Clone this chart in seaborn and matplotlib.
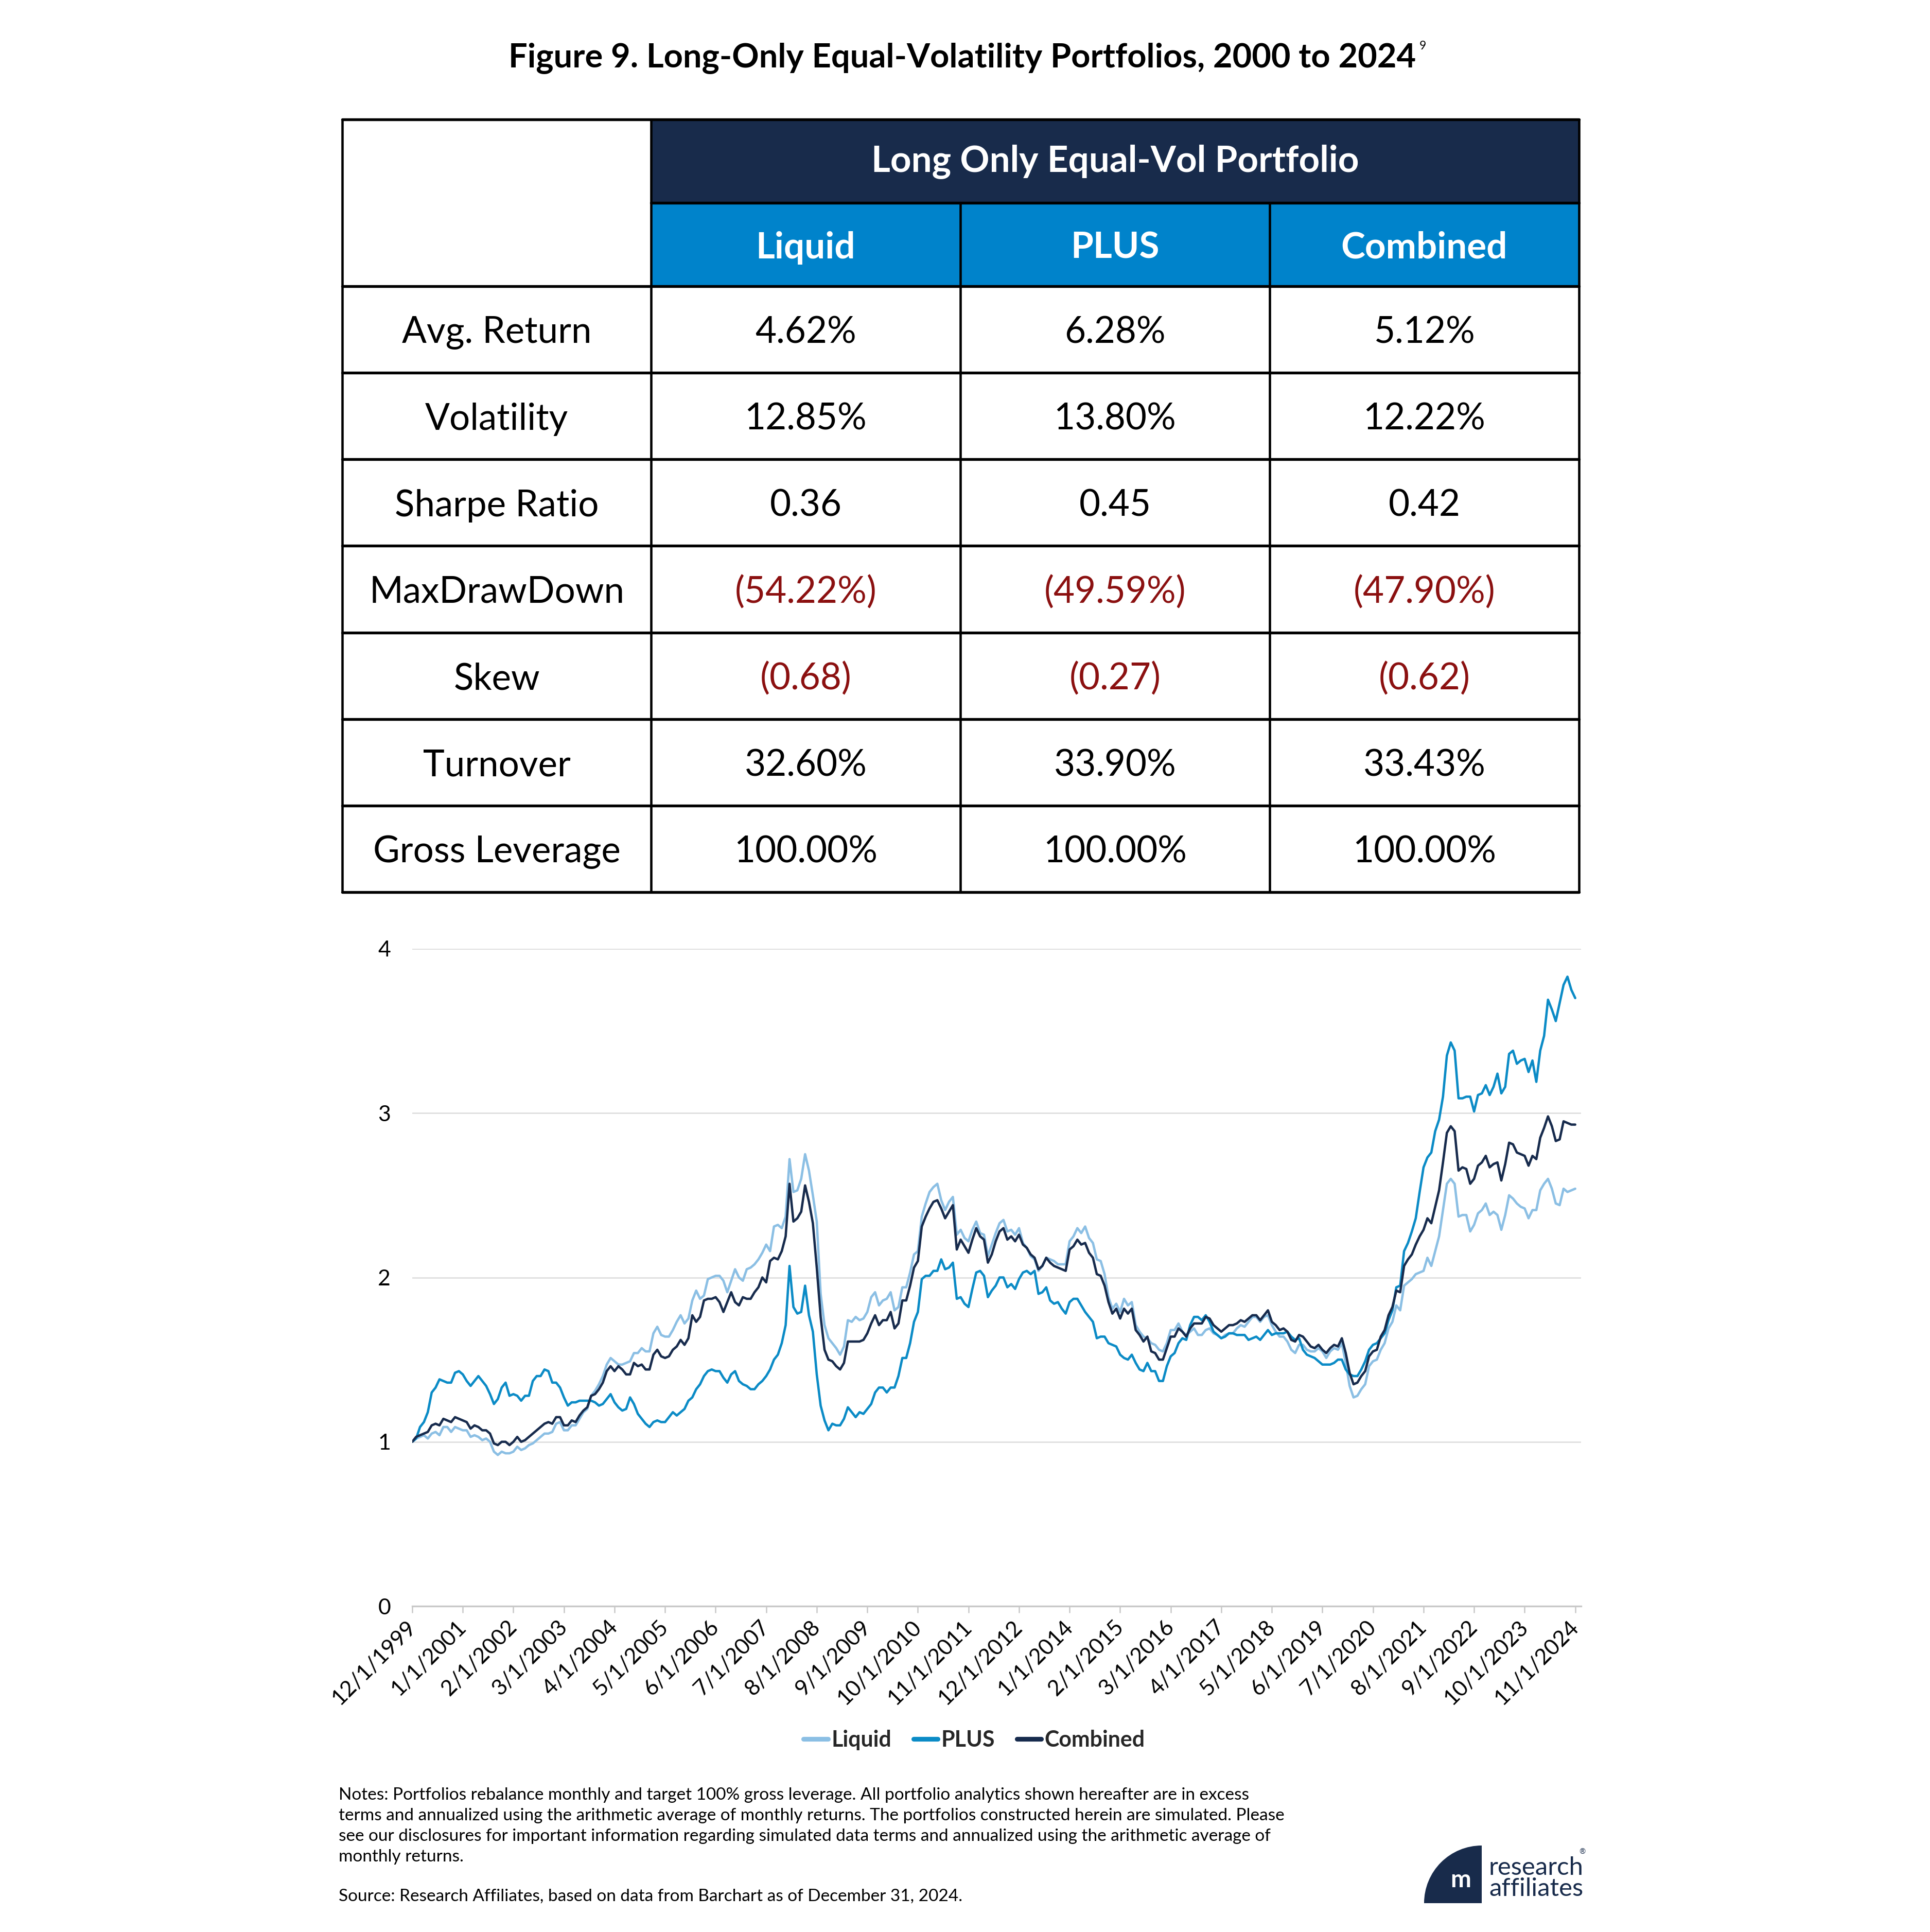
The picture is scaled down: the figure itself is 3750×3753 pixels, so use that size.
import matplotlib
matplotlib.use("Agg")
import matplotlib.pyplot as plt
from matplotlib.lines import Line2D
from matplotlib.patches import Rectangle, Wedge
import pandas as pd
import seaborn as sns

W, H, DPI = 3750, 3753, 300

# monthly growth of $1, 12/1999 .. 11/2024
liquid = [
    1.00, 1.02, 1.03, 1.04, 1.02, 1.05, 1.06, 1.04, 1.09, 1.09,
    1.06, 1.09, 1.08, 1.07, 1.07, 1.03, 1.04, 1.03, 1.01, 1.02,
    1.00, 0.94, 0.92, 0.94, 0.93, 0.93, 0.94, 0.97, 0.95, 0.96,
    0.98, 0.99, 1.01, 1.03, 1.05, 1.05, 1.06, 1.11, 1.12, 1.07,
    1.07, 1.10, 1.10, 1.14, 1.18, 1.20, 1.28, 1.31, 1.35, 1.40,
    1.47, 1.51, 1.49, 1.47, 1.47, 1.48, 1.49, 1.54, 1.54, 1.57,
    1.55, 1.55, 1.66, 1.70, 1.65, 1.64, 1.64, 1.68, 1.73, 1.77,
    1.72, 1.75, 1.86, 1.92, 1.87, 1.89, 1.99, 2.00, 2.01, 2.01,
    1.98, 1.91, 1.98, 2.05, 2.00, 1.98, 2.05, 2.06, 2.08, 2.11,
    2.15, 2.20, 2.16, 2.31, 2.32, 2.30, 2.37, 2.72, 2.52, 2.53,
    2.60, 2.75, 2.65, 2.50, 2.34, 1.90, 1.71, 1.63, 1.60, 1.57,
    1.53, 1.58, 1.74, 1.73, 1.76, 1.74, 1.75, 1.79, 1.88, 1.91,
    1.83, 1.86, 1.87, 1.91, 1.80, 1.82, 1.94, 1.94, 2.03, 2.14,
    2.16, 2.37, 2.45, 2.52, 2.55, 2.57, 2.47, 2.41, 2.46, 2.49,
    2.26, 2.29, 2.24, 2.22, 2.29, 2.34, 2.27, 2.26, 2.13, 2.20,
    2.27, 2.33, 2.35, 2.28, 2.29, 2.26, 2.30, 2.21, 2.18, 2.13,
    2.11, 2.04, 2.07, 2.12, 2.11, 2.10, 2.08, 2.08, 2.08, 2.22,
    2.25, 2.30, 2.27, 2.31, 2.24, 2.21, 2.11, 2.10, 2.02, 1.88,
    1.81, 1.84, 1.79, 1.87, 1.83, 1.85, 1.71, 1.67, 1.64, 1.63,
    1.60, 1.59, 1.56, 1.55, 1.60, 1.68, 1.68, 1.72, 1.67, 1.65,
    1.67, 1.69, 1.65, 1.65, 1.68, 1.69, 1.66, 1.65, 1.63, 1.65,
    1.66, 1.66, 1.69, 1.71, 1.70, 1.73, 1.76, 1.76, 1.73, 1.76,
    1.77, 1.71, 1.67, 1.64, 1.64, 1.61, 1.56, 1.54, 1.59, 1.59,
    1.56, 1.55, 1.55, 1.57, 1.55, 1.51, 1.55, 1.57, 1.56, 1.60,
    1.48, 1.34, 1.27, 1.28, 1.32, 1.35, 1.46, 1.49, 1.50, 1.56,
    1.60, 1.69, 1.73, 1.83, 1.80, 1.95, 1.97, 1.99, 2.02, 2.03,
    2.04, 2.12, 2.07, 2.16, 2.25, 2.41, 2.57, 2.60, 2.57, 2.37,
    2.38, 2.38, 2.28, 2.32, 2.39, 2.41, 2.45, 2.38, 2.40, 2.38,
    2.29, 2.38, 2.50, 2.48, 2.45, 2.43, 2.42, 2.36, 2.41, 2.41,
    2.53, 2.57, 2.60, 2.54, 2.45, 2.44, 2.54, 2.52, 2.53, 2.54,
]
plus = [
    1.00, 1.02, 1.09, 1.12, 1.18, 1.30, 1.33, 1.38, 1.37, 1.36,
    1.36, 1.42, 1.43, 1.41, 1.37, 1.34, 1.37, 1.40, 1.37, 1.34,
    1.29, 1.23, 1.26, 1.33, 1.36, 1.28, 1.29, 1.28, 1.25, 1.28,
    1.28, 1.37, 1.40, 1.40, 1.44, 1.43, 1.36, 1.36, 1.33, 1.27,
    1.22, 1.24, 1.24, 1.25, 1.25, 1.25, 1.25, 1.24, 1.22, 1.23,
    1.26, 1.29, 1.24, 1.21, 1.19, 1.20, 1.27, 1.23, 1.17, 1.14,
    1.11, 1.09, 1.12, 1.13, 1.12, 1.12, 1.15, 1.18, 1.16, 1.18,
    1.20, 1.25, 1.27, 1.32, 1.35, 1.40, 1.43, 1.44, 1.43, 1.43,
    1.39, 1.36, 1.41, 1.43, 1.37, 1.35, 1.34, 1.32, 1.32, 1.35,
    1.37, 1.40, 1.44, 1.50, 1.53, 1.60, 1.71, 2.07, 1.82, 1.78,
    1.79, 1.95, 1.77, 1.67, 1.41, 1.22, 1.13, 1.07, 1.11, 1.10,
    1.10, 1.14, 1.21, 1.18, 1.15, 1.18, 1.17, 1.20, 1.23, 1.30,
    1.33, 1.33, 1.30, 1.33, 1.33, 1.40, 1.51, 1.51, 1.60, 1.73,
    1.79, 1.99, 2.01, 2.01, 2.04, 2.04, 2.11, 2.05, 2.06, 2.09,
    1.87, 1.88, 1.84, 1.82, 1.93, 2.03, 2.04, 2.01, 1.88, 1.92,
    1.95, 2.00, 2.00, 1.94, 1.96, 1.93, 1.99, 2.03, 2.04, 2.02,
    2.04, 1.90, 1.91, 1.94, 1.86, 1.84, 1.85, 1.81, 1.78, 1.85,
    1.87, 1.87, 1.83, 1.79, 1.76, 1.73, 1.63, 1.64, 1.64, 1.60,
    1.59, 1.58, 1.53, 1.51, 1.50, 1.53, 1.48, 1.44, 1.43, 1.48,
    1.43, 1.43, 1.37, 1.37, 1.46, 1.52, 1.54, 1.60, 1.63, 1.62,
    1.71, 1.76, 1.76, 1.74, 1.77, 1.73, 1.67, 1.65, 1.63, 1.64,
    1.66, 1.66, 1.65, 1.65, 1.65, 1.62, 1.63, 1.64, 1.62, 1.65,
    1.68, 1.65, 1.66, 1.66, 1.66, 1.67, 1.64, 1.62, 1.63, 1.56,
    1.53, 1.52, 1.51, 1.49, 1.47, 1.47, 1.47, 1.48, 1.50, 1.50,
    1.44, 1.41, 1.40, 1.40, 1.44, 1.49, 1.56, 1.59, 1.60, 1.63,
    1.66, 1.74, 1.80, 1.94, 1.95, 2.16, 2.21, 2.28, 2.36, 2.52,
    2.67, 2.73, 2.76, 2.89, 2.96, 3.10, 3.35, 3.43, 3.38, 3.09,
    3.09, 3.10, 3.10, 3.01, 3.11, 3.12, 3.17, 3.11, 3.16, 3.24,
    3.12, 3.16, 3.36, 3.38, 3.30, 3.32, 3.33, 3.25, 3.32, 3.19,
    3.38, 3.47, 3.69, 3.63, 3.56, 3.67, 3.78, 3.83, 3.75, 3.70,
]
combined = [
    1.00, 1.03, 1.04, 1.05, 1.06, 1.10, 1.11, 1.10, 1.14, 1.13,
    1.12, 1.15, 1.14, 1.13, 1.12, 1.08, 1.10, 1.09, 1.07, 1.07,
    1.05, 0.99, 0.98, 1.00, 1.00, 0.98, 1.00, 1.03, 1.00, 1.01,
    1.03, 1.05, 1.07, 1.09, 1.11, 1.12, 1.11, 1.15, 1.15, 1.10,
    1.10, 1.13, 1.12, 1.16, 1.19, 1.21, 1.28, 1.29, 1.32, 1.36,
    1.43, 1.46, 1.43, 1.46, 1.44, 1.41, 1.41, 1.48, 1.46, 1.47,
    1.44, 1.44, 1.53, 1.56, 1.52, 1.51, 1.52, 1.56, 1.58, 1.62,
    1.59, 1.63, 1.77, 1.73, 1.76, 1.86, 1.87, 1.87, 1.88, 1.85,
    1.79, 1.85, 1.91, 1.85, 1.83, 1.88, 1.87, 1.87, 1.91, 1.94,
    2.00, 1.97, 2.10, 2.12, 2.11, 2.16, 2.25, 2.57, 2.34, 2.36,
    2.40, 2.56, 2.46, 2.33, 2.06, 1.76, 1.56, 1.50, 1.49, 1.46,
    1.44, 1.48, 1.61, 1.61, 1.61, 1.61, 1.62, 1.66, 1.72, 1.77,
    1.71, 1.74, 1.74, 1.79, 1.69, 1.72, 1.86, 1.86, 1.95, 2.06,
    2.10, 2.31, 2.37, 2.42, 2.46, 2.47, 2.42, 2.36, 2.40, 2.44,
    2.17, 2.23, 2.19, 2.15, 2.23, 2.30, 2.25, 2.23, 2.09, 2.14,
    2.22, 2.28, 2.30, 2.23, 2.25, 2.22, 2.26, 2.20, 2.18, 2.14,
    2.12, 2.05, 2.07, 2.12, 2.09, 2.07, 2.06, 2.05, 2.04, 2.17,
    2.19, 2.23, 2.20, 2.21, 2.15, 2.12, 2.02, 2.01, 1.95, 1.85,
    1.78, 1.81, 1.75, 1.81, 1.78, 1.81, 1.68, 1.65, 1.61, 1.64,
    1.55, 1.54, 1.50, 1.50, 1.57, 1.64, 1.64, 1.69, 1.67, 1.64,
    1.69, 1.72, 1.72, 1.72, 1.76, 1.75, 1.71, 1.69, 1.67, 1.69,
    1.71, 1.71, 1.72, 1.74, 1.73, 1.75, 1.77, 1.77, 1.74, 1.77,
    1.80, 1.73, 1.71, 1.68, 1.69, 1.67, 1.62, 1.61, 1.65, 1.64,
    1.61, 1.58, 1.57, 1.59, 1.56, 1.54, 1.57, 1.59, 1.58, 1.63,
    1.54, 1.42, 1.35, 1.36, 1.40, 1.43, 1.52, 1.55, 1.56, 1.64,
    1.68, 1.77, 1.82, 1.92, 1.91, 2.07, 2.11, 2.14, 2.20, 2.25,
    2.29, 2.36, 2.33, 2.43, 2.53, 2.70, 2.88, 2.92, 2.89, 2.65,
    2.67, 2.66, 2.57, 2.60, 2.68, 2.70, 2.74, 2.67, 2.69, 2.70,
    2.59, 2.69, 2.82, 2.81, 2.76, 2.75, 2.74, 2.68, 2.74, 2.72,
    2.85, 2.91, 2.98, 2.92, 2.83, 2.84, 2.95, 2.94, 2.93, 2.93,
]
start_month = "1999-12-01"
tick_step = 13
series_names = ["Liquid", "PLUS", "Combined"]
series_colors = ["#8bbfe4", "#0b8bc6", "#172b4d"]

row_labels = ["Avg. Return", "Volatility", "Sharpe Ratio", "MaxDrawDown",
              "Skew", "Turnover", "Gross Leverage"]
liquid_stats = ["4.62%", "12.85%", "0.36", "(54.22%)", "(0.68)", "32.60%", "100.00%"]
plus_stats = ["6.28%", "13.80%", "0.45", "(49.59%)", "(0.27)", "33.90%", "100.00%"]
combined_stats = ["5.12%", "12.22%", "0.42", "(47.90%)", "(0.62)", "33.43%", "100.00%"]

title_text = "Figure 9. Long-Only Equal-Volatility Portfolios, 2000 to 2024"
notes = [
    "Notes: Portfolios rebalance monthly and target 100% gross leverage. All portfolio analytics shown hereafter are in excess",
    "terms and annualized using the arithmetic average of monthly returns. The portfolios constructed herein are simulated. Please",
    "see our disclosures for important information regarding simulated data terms and annualized using the arithmetic average of",
    "monthly returns.",
]
source = "Source: Research Affiliates, based on data from Barchart as of December 31, 2024."

NAVY = "#182b4b"
BLUE = "#0083cb"
RED = "#8b1010"

sns.set_theme(style="white")
plt.rcParams["font.family"] = ["Lato", "DejaVu Sans"]

fig = plt.figure(figsize=(W / DPI, H / DPI), dpi=DPI)
fig.patch.set_facecolor("white")

# full-page canvas in pixel coords (y down)
bg = fig.add_axes([0, 0, 1, 1])
bg.set_xlim(0, W)
bg.set_ylim(H, 0)
bg.axis("off")

title = bg.text(1870, 113, title_text, ha="center", va="center",
                fontsize=15.6, fontweight="bold", color="black")

# ---- table ----
col_x = [665, 1265, 1866, 2467, 3068]
row_y = [232, 394, 556] + [556 + 168.14 * i for i in range(1, 8)]

bg.add_patch(Rectangle((col_x[1], row_y[0]), col_x[4] - col_x[1], row_y[1] - row_y[0],
                       facecolor=NAVY, edgecolor="none"))
for i in range(3):
    bg.add_patch(Rectangle((col_x[i + 1], row_y[1]), col_x[i + 2] - col_x[i + 1],
                           row_y[2] - row_y[1], facecolor=BLUE, edgecolor="none"))

for k, y in enumerate(row_y):
    x0 = col_x[1] if k == 1 else col_x[0]
    bg.add_line(Line2D([x0, col_x[4]], [y, y], color="black", lw=1.3))
for k, x in enumerate(col_x):
    y0 = row_y[1] if k in (2, 3) else row_y[0]
    bg.add_line(Line2D([x, x], [y0, row_y[-1]], color="black", lw=1.1))

fs_tab = 17
bg.text((col_x[1] + col_x[4]) / 2, (row_y[0] + row_y[1]) / 2 + 2, "Long Only Equal-Vol Portfolio",
        ha="center", va="center", color="white", fontsize=fs_tab, fontweight="bold")
for i, name in enumerate(series_names):
    bg.text((col_x[i + 1] + col_x[i + 2]) / 2, (row_y[1] + row_y[2]) / 2 + 6, name,
            ha="center", va="center", color="white", fontsize=fs_tab, fontweight="bold")

for r, label in enumerate(row_labels):
    yc = (row_y[r + 2] + row_y[r + 3]) / 2 + 6
    bg.text((col_x[0] + col_x[1]) / 2, yc, label, ha="center", va="center",
            fontsize=fs_tab, color="black")
    for c, stats in enumerate([liquid_stats, plus_stats, combined_stats]):
        val = stats[r]
        bg.text((col_x[c + 1] + col_x[c + 2]) / 2, yc, val, ha="center", va="center",
                fontsize=fs_tab, color=RED if val.startswith("(") else "black")

# ---- line chart ----
dates = pd.date_range(start_month, periods=len(liquid), freq="MS")
df = pd.DataFrame({"month": range(len(liquid)), "Liquid": liquid, "PLUS": plus,
                   "Combined": combined})
long = df.melt(id_vars="month", var_name="series", value_name="value")

ax = fig.add_axes([801 / W, 1 - 3120 / H, (3072 - 801) / W, (3120 - 1843) / H])
sns.lineplot(data=long, x="month", y="value", hue="series", hue_order=series_names,
             palette=series_colors, linewidth=1.1, ax=ax)

ax.set_xlim(0, 300.5)
ax.set_ylim(0, 4)
ax.set_yticks([0, 1, 2, 3, 4])
ax.set_yticklabels(["0", "1", "2", "3", "4"])
ax.grid(axis="y", color="#dcdcdc", lw=0.6)
ax.grid(axis="x", visible=False)
ticks = list(range(0, len(liquid), tick_step))
ax.set_xticks(ticks)
ax.set_xticklabels([f"{d.month}/{d.day}/{d.year}" for d in dates[ticks]],
                   rotation=45, ha="right", va="center", rotation_mode="anchor")
ax.set_xlabel("")
ax.set_ylabel("")
for s in ["top", "right", "left"]:
    ax.spines[s].set_visible(False)
ax.spines["bottom"].set_color("#c8c8c8")
ax.spines["bottom"].set_linewidth(0.8)
ax.tick_params(axis="x", bottom=True, length=3.2, width=0.6, color="#c8c8c8",
               labelsize=10.3, pad=5, labelcolor="black")
ax.tick_params(axis="y", left=False, length=0, labelsize=10.3, pad=10, labelcolor="black")
ax.set_facecolor("none")

sns.move_legend(ax, "center", bbox_to_anchor=(1893 / W, 1 - 3380 / H),
                bbox_transform=fig.transFigure, ncol=3, frameon=False, title=None,
                handlelength=1.1, handletextpad=0.15, columnspacing=1.0,
                prop={"weight": "bold", "size": 10.3})
for ln in ax.get_legend().get_lines():
    ln.set_linewidth(2.2)

# ---- notes / source ----
for i, line in enumerate(notes):
    bg.text(658, 3487 + 40 * i, line, ha="left", va="center", fontsize=8.0, color="black")
bg.text(658, 3684, source, ha="left", va="center", fontsize=8.0, color="black")

# ---- logo ----
bg.add_patch(Wedge((2879, 3697), 112, 180, 270, facecolor=NAVY, edgecolor="none"))
bg.text(2838, 3652, "m", ha="center", va="center", color="white", fontsize=11.5,
        fontweight="bold")
bg.text(2893, 3642, "research", ha="left", va="baseline", color=NAVY, fontsize=11.8)
bg.text(2893, 3683, "affiliates", ha="left", va="baseline", color=NAVY, fontsize=11.8)
bg.text(3068, 3598, "®", ha="left", va="center", color=NAVY, fontsize=3.5)

# superscript note marker after the title
fig.canvas.draw()
bb = title.get_window_extent()
bg.text(bb.x1 + 6, H - bb.y1 - 4, "9", ha="left", va="top", fontsize=5.5, color="black")

fig.savefig("out.png", dpi=DPI, facecolor="white")
